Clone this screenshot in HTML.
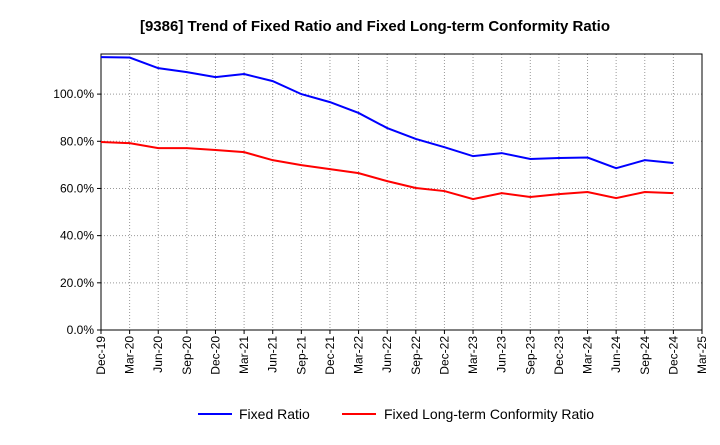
<!DOCTYPE html>
<html><head><meta charset="utf-8"><style>
body{margin:0;background:#fff;font-family:"Liberation Sans",Arial,sans-serif}
</style></head><body>
<svg width="720" height="440" xmlns="http://www.w3.org/2000/svg">
<text x="375" y="31" text-anchor="middle" font-size="15" font-weight="bold">[9386]  Trend of Fixed Ratio and Fixed Long-term Conformity Ratio</text>
<g id="grid"></g>
<g id="axes"></g>
<g id="series"></g>
<g>
<line x1="198" y1="414" x2="232" y2="414" stroke="#0000ff" stroke-width="2"/>
<text x="239" y="419" font-size="14">Fixed Ratio</text>
<line x1="342" y1="414" x2="376" y2="414" stroke="#ff0000" stroke-width="2"/>
<text x="384" y="419" font-size="14">Fixed Long-term Conformity Ratio</text>
</g>
</svg>
<script>
const categories=["Dec-19","Mar-20","Jun-20","Sep-20","Dec-20","Mar-21","Jun-21","Sep-21","Dec-21","Mar-22","Jun-22","Sep-22","Dec-22","Mar-23","Jun-23","Sep-23","Dec-23","Mar-24","Jun-24","Sep-24","Dec-24","Mar-25"];
const fixedRatio=[115.7,115.5,111,109.3,107.2,108.5,105.5,100,96.6,92,85.6,81,77.5,73.7,75,72.5,72.9,73.1,68.6,72,70.8];
const conformityRatio=[79.7,79.2,77.1,77.1,76.3,75.4,72,69.9,68.2,66.5,63.1,60.2,58.9,55.5,58,56.4,57.6,58.5,55.9,58.5,58];
const yTicks=[0,20,40,60,80,100];
const yTickLabels=["0.0%","20.0%","40.0%","60.0%","80.0%","100.0%"];
const L=101,R=702,T=54,B=330,yMax=117;
const NS="http://www.w3.org/2000/svg";
const x=i=>L+i*(R-L)/(categories.length-1);
const y=v=>B-v/yMax*(B-T);
function mk(t,a,p){const e=document.createElementNS(NS,t);for(const k in a)e.setAttribute(k,a[k]);p.appendChild(e);return e;}
const g=document.getElementById('grid'),ax=document.getElementById('axes'),s=document.getElementById('series');
categories.forEach((c,i)=>{
 if(i>0&&i<categories.length-1){const l=mk('line',{x1:x(i),x2:x(i),y1:T,y2:B,stroke:'#999','stroke-dasharray':'1,2'},g);
 }
 const t=mk('text',{x:0,y:0,'font-size':12,'text-anchor':'end',transform:`translate(${x(i)+4},${B+6}) rotate(-90)`},ax);
 t.textContent=c;
 mk('line',{x1:x(i),x2:x(i),y1:B,y2:B+4,stroke:'#000'},ax);
});
yTicks.forEach((v,i)=>{
 if(v>0){const l=mk('line',{x1:L,x2:R,y1:y(v),y2:y(v),stroke:'#999','stroke-dasharray':'1,2'},g);
 }
 mk('line',{x1:L-4,x2:L,y1:y(v),y2:y(v),stroke:'#000'},ax);
 const t=mk('text',{x:L-7,y:y(v)+4,'font-size':12,'text-anchor':'end'},ax);
 t.textContent=yTickLabels[i];
});
const f=mk('rect',{x:L,y:T,width:R-L,height:B-T,fill:'none',stroke:'#000'},ax);

function line(d,c,n){const p=mk('polyline',{points:d.map((v,i)=>x(i)+','+y(v)).join(' '),fill:'none',stroke:c,'stroke-width':2},s);
 }
line(fixedRatio,'#0000ff','fixed-ratio-line');
line(conformityRatio,'#ff0000','conformity-ratio-line');
</script>
</body></html>
